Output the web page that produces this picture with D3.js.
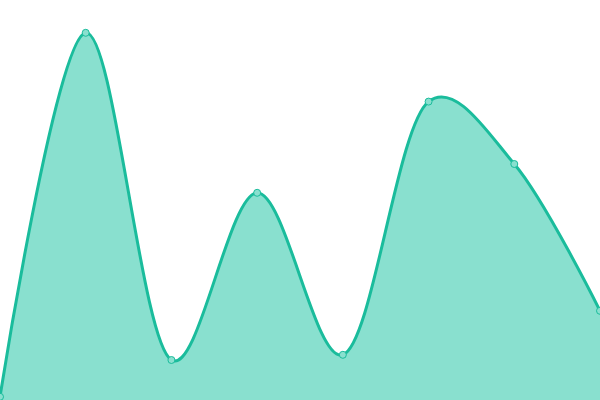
<!DOCTYPE html>
<html>
<head>
<meta charset="utf-8">
<script src="https://cdn.jsdelivr.net/npm/d3@7"></script>
<style>
  html, body { margin: 0; padding: 0; background: #fff; }
  svg { display: block; }
</style>
</head>
<body>
<div id="container"></div>
<script>
const w = 600
const h = 400

// data
const categories = ['1', '2', '3', '4', '5', '6', '7', '8']
const values = [0.8, 91.8, 10, 51.8, 11.3, 74.6, 59, 22.3]

const svg = d3.select('#container')
              .append('svg')
              .attr('width', w)
              .attr('height', h)

const xScale = d3.scalePoint()
                 .domain(categories)
                 .range([0, w])
const yScale = d3.scaleLinear()
                 .domain([0, 100])
                 .range([h, 0])

const dataset = categories.map((c, i) => ({ c: c, v: values[i] }))

const curve = d3.curveCatmullRom.alpha(0.2)

const area = d3.area()
               .x(d => xScale(d.c))
               .y0(h)
               .y1(d => yScale(d.v))
               .curve(curve)
const line = d3.line()
               .x(d => xScale(d.c))
               .y(d => yScale(d.v))
               .curve(curve)

svg.append('path')
   .datum(dataset)
   .attr('d', area)
   .attr('fill', '#89e0cf')

svg.append('path')
   .datum(dataset)
   .attr('d', line)
   .attr('fill', 'none')
   .attr('stroke', '#1abc9c')
   .attr('stroke-width', 3)

svg.selectAll('circle')
   .data(dataset)
   .enter()
   .append('circle')
   .attr('cx', d => xScale(d.c))
   .attr('cy', d => yScale(d.v))
   .attr('r', 3.5)
   .attr('fill', '#89e0cf')
   .attr('stroke', '#1abc9c')
   .attr('stroke-width', 1)
</script>
</body>
</html>
